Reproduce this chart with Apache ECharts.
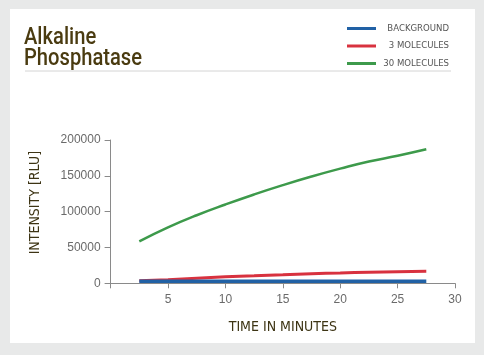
<!DOCTYPE html>
<html>
<head>
<meta charset="utf-8">
<script src="https://cdn.jsdelivr.net/npm/echarts@6/dist/echarts.min.js"></script>
<style>
html,body{margin:0;padding:0;background:#e8e9e9;}
#c{width:484px;height:355px;}
</style>
</head>
<body>
<div id="c"></div>
<script>
const times = [2.5, 5, 7.5, 10, 12.5, 15, 17.5, 20, 22.5, 25, 27.5];
const background = [3000, 3000, 3000, 3000, 3000, 3000, 3000, 3000, 3000, 3000, 3000];
const molecules3 = [3500, 5000, 7000, 9000, 10500, 12000, 13500, 14500, 15500, 16200, 16800];
const molecules30 = [58500, 78000, 95000, 110000, 124000, 137000, 149000, 160000, 170000, 178000, 187000];
const seriesNames = ['BACKGROUND', '3 MOLECULES', '30 MOLECULES'];
const xTicks = [5, 10, 15, 20, 25, 30];
const yTicks = [0, 50000, 100000, 150000, 200000];

const narrow = '"Liberation Sans Narrow", "DejaVu Sans Condensed", sans-serif';
const pair = (ys) => times.map((t, i) => [t, ys[i]]);

const chart = echarts.init(document.getElementById('c'), null, {renderer: 'canvas'});
chart.setOption({
  backgroundColor: '#e8e9e9',
  animation: false,
  graphic: [
    {type: 'rect', shape: {x: 10, y: 9, width: 465, height: 334}, style: {fill: '#ffffff'}, z: -10},
    {type: 'line', shape: {x1: 25, y1: 71, x2: 451, y2: 71}, style: {stroke: '#d4d4d4', lineWidth: 1}},
    {type: 'text', x: 24, y: 27.5, scaleX: 0.84, style: {text: 'Alkaline\nPhosphatase', fill: '#4a3b10', fontFamily: 'Roboto', fontWeight: 500, fontSize: 24, lineHeight: 21}}
  ],
  legend: {
    orient: 'vertical',
    right: 30,
    top: 18.5,
    itemWidth: 29,
    itemHeight: 3,
    itemGap: 7.5,
    icon: 'rect',
    data: seriesNames,
    formatter: (n) => '{a|' + n + '}',
    textStyle: {
      rich: {a: {width: 68, align: 'right', fontFamily: narrow, fontSize: 9.5, color: '#555555'}}
    }
  },
  grid: {left: 110.6, right: 29, top: 140, bottom: 71.7, containLabel: false},
  xAxis: {
    type: 'value',
    min: 0, max: 30, interval: 5,
    name: 'TIME IN MINUTES',
    nameLocation: 'middle',
    nameGap: 37,
    nameTextStyle: {fontFamily: narrow, fontSize: 14, color: '#3d3414'},
    axisLine: {show: true, lineStyle: {color: '#8a8a8a', width: 1}},
    axisTick: {show: true, length: 5, lineStyle: {color: '#8a8a8a'}},
    axisLabel: {
      color: '#6a6a6a', fontFamily: 'Liberation Sans, sans-serif', fontSize: 12, margin: 10,
      formatter: (v) => xTicks.includes(v) ? String(v) : ''
    },
    splitLine: {show: false}
  },
  yAxis: {
    type: 'value',
    min: 0, max: 200000, interval: 50000,
    name: 'INTENSITY [RLU]',
    nameLocation: 'middle',
    nameGap: 68,
    nameRotate: 90,
    nameTextStyle: {fontFamily: narrow, fontSize: 14, color: '#3d3414', padding: [0, 0, 0, 18]},
    axisLine: {show: true, lineStyle: {color: '#8a8a8a', width: 1}},
    axisTick: {show: true, length: 6, lineStyle: {color: '#8a8a8a'}},
    axisLabel: {
      color: '#6a6a6a', fontFamily: 'Liberation Sans, sans-serif', fontSize: 12, margin: 10,
      formatter: (v) => yTicks.includes(v) ? String(v) : ''
    },
    splitLine: {show: false}
  },
  series: [
    {name: seriesNames[0], type: 'line', data: pair(background), smooth: true, showSymbol: false,
     lineStyle: {color: '#2161a5', width: 3.5}, itemStyle: {color: '#2161a5'}, z: 3},
    {name: seriesNames[1], type: 'line', data: pair(molecules3), smooth: true, showSymbol: false,
     lineStyle: {color: '#d8323f', width: 3}, itemStyle: {color: '#d8323f'}, z: 2},
    {name: seriesNames[2], type: 'line', data: pair(molecules30), smooth: true, showSymbol: false,
     lineStyle: {color: '#3d9a4b', width: 2.5}, itemStyle: {color: '#3d9a4b'}, z: 2}
  ]
});
</script>
</body>
</html>
